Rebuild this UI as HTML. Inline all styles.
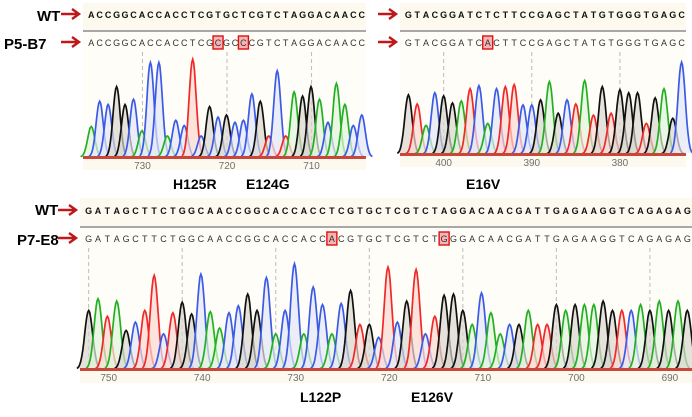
<!DOCTYPE html>
<html><head><meta charset="utf-8"><style>
html,body{margin:0;padding:0;background:#fff;}
svg{display:block;font-family:"Liberation Sans",sans-serif;}
</style></head><body>
<svg id="fig" width="692" height="417" viewBox="0 0 692 417">
<g id="labels">
  <text x="37" y="21" font-size="15" font-weight="bold">WT</text>
  <text x="4" y="49" font-size="15" font-weight="bold">P5-B7</text>
  <text x="35" y="215" font-size="15" font-weight="bold">WT</text>
  <text x="17" y="245" font-size="15" font-weight="bold">P7-E8</text>
  <text x="173" y="189" font-size="14" font-weight="bold">H125R</text>
  <text x="246" y="189" font-size="14" font-weight="bold">E124G</text>
  <text x="466" y="189" font-size="14" font-weight="bold">E16V</text>
  <text x="300" y="402" font-size="14" font-weight="bold">L122P</text>
  <text x="411" y="402" font-size="14" font-weight="bold">E126V</text>
</g>
</svg>
<script>
// ---- data ----
const p1Wt = "ACCGGCACCACCTCGTGCTCGTCTAGGACAACC";
const p1Mut = "ACCGGCACCACCTCGCGCCCGTCTAGGACAACC";
const p1Heights = [0.29,0.53,0.5,0.67,0.5,0.55,0.25,0.9,0.9,0.2,0.35,0.3,0.93,0.2,0.48,0.38,0.4,0.33,0.35,0.6,0.53,0.2,0.82,0.2,0.62,0.58,0.67,0.55,0.33,0.7,0.5,0.3,0.4];
const p1Marks = [15,18];
const p1Ticks = ["730","720","710"];
const p2Wt = "GTACGGATCTCTTCCGAGCTATGTGGGTGAGC";
const p2Mut = "GTACGGATCACTTCCGAGCTATGTGGGTGAGC";
const p2Heights = [0.58,0.49,0.28,0.6,0.57,0.5,0.52,0.64,0.67,0.3,0.64,0.66,0.68,0.48,0.48,0.53,0.71,0.4,0.53,0.49,0.72,0.38,0.66,0.4,0.63,0.6,0.6,0.3,0.55,0.64,0.35,0.9];
const p2Marks = [9];
const p2Ticks = ["400","390","380"];
const p3Wt = "GATAGCTTCTGGCAACCGGCACCACCTCGTGCTCGTCTAGGACAACGATTGAGAAGGTCAGAGAG";
const p3Mut = "GATAGCTTCTGGCAACCGGCACCACCACGTGCTCGTCTGGGACAACGATTGAGAAGGTCAGAGAG";
const p3Heights = [0.5,0.6,0.45,0.58,0.33,0.4,0.5,0.8,0.3,0.48,0.57,0.47,0.81,0.49,0.35,0.48,0.54,0.64,0.5,0.78,0.3,0.5,0.9,0.3,0.7,0.55,0.3,0.56,0.67,0.38,0.38,0.27,0.87,0.4,0.58,0.85,0.3,0.45,0.63,0.64,0.5,0.38,0.65,0.48,0.3,0.38,0.38,0.5,0.38,0.38,0.55,0.5,0.55,0.55,0.55,0.58,0.5,0.5,0.5,0.55,0.5,0.58,0.5,0.58,0.5,0.5];
const p3Marks = [26,38];
const p3Ticks = ["750","740","730","720","710","700","690"];

const COL = {A:"#22b022",C:"#3b5ae6",G:"#111111",T:"#f02828"};
const FILL = {A:"#e2f3dd",C:"#e4e7f6",G:"#d9d6cf",T:"#fbd9d2"};
const NS = "http://www.w3.org/2000/svg";
const svg = document.getElementById("fig");
function mk(tag, attrs, parent){const e=document.createElementNS(NS,tag);for(const k in attrs)e.setAttribute(k,attrs[k]);(parent||svg).appendChild(e);return e;}

function drawPanel(p){
  const g = mk("g",{});
  
  
  mk("rect",{x:p.x0,y:p.yTop,width:p.x1-p.x0,height:p.yAxis-p.yTop,fill:"#fdf9ee"},g);
  mk("rect",{x:p.x0,y:p.sep+2,width:p.x1-p.x0,height:p.base-p.sep-2,fill:"#fffdf8"},g);
  mk("rect",{x:p.x0,y:p.sep,width:p.x1-p.x0,height:2,fill:"#a8a8a8"},g);
  const n = p.mut.length;
  const dx = (p.x1-p.x0-4)/n;
  const xb = i => p.x0+4+dx*(i+0.5);
  const yv = h => p.base - h*(p.base-p.traceTop);
  [p.wtY, p.mutY].forEach(yy=>{
    const a = mk("path",{d:`M${p.x0-22} ${yy-4}H${p.x0-6}M${p.x0-11} ${yy-9}L${p.x0-4} ${yy-4}L${p.x0-11} ${yy+1}`,stroke:"#c01818","stroke-width":2.4,fill:"none"},g);
    
    
  });
  p.ticks.forEach((t,k)=>{
    const i = p.tickStart + k*10;
    const x = xb(i) + p.tickShift;
    mk("line",{x1:x,x2:x,y1:p.mutY+6,y2:p.base,stroke:"#bbbbbb","stroke-dasharray":"4,3","stroke-width":1},g);
    const tx = mk("text",{x:x+p.labelShift,y:p.base+12,"font-size":10,fill:"#707070","text-anchor":"middle"},g);
    tx.textContent = t;
    
    
  });
  p.marks.forEach(i=>{
    const r = mk("rect",{x:xb(i)-5,y:p.mutY-10,width:10,height:13,fill:"#f6b4b4",stroke:"#e01010","stroke-width":1.4},g);
    
    
  });
  for(let i=0;i<n;i++){
    if(i<p.wt.length){
      const t = mk("text",{x:xb(i),y:p.wtY,"font-size":9,"font-weight":"bold","text-anchor":"middle",fill:"#111"},g);
      t.textContent = p.wt[i];
      
      
    }
    const t2 = mk("text",{x:xb(i),y:p.mutY,"font-size":9,"text-anchor":"middle",fill:"#333"},g);
    t2.textContent = p.mut[i];
    
    
  }
  const sig = dx*0.42;
  for(let i=0;i<n;i++){
    const b = p.mut[i], c = xb(i), top = yv(p.heights[i]);
    let d = "";
    for(let s=-3;s<=3.001;s+=0.25){
      const x = c + s*sig;
      const y = p.base - (p.base-top)*Math.exp(-s*s/2);
      d += (d?"L":"M")+x.toFixed(1)+" "+y.toFixed(1);
    }
    const f = mk("path",{d:d+"Z",fill:FILL[b],opacity:0.7},g);
    
    
    const l = mk("path",{d:d,fill:"none",stroke:COL[b],"stroke-width":1.7},g);
    
    
  }
  mk("rect",{x:p.x0,y:p.base-1,width:p.x1-p.x0,height:3,fill:"#c8463a"},g);
}

drawPanel({name:"panel-p5-b7-left",x0:83,x1:366,yTop:3,sep:30,wtY:18,mutY:46,traceTop:52,base:157,yAxis:170,
  wt:p1Wt,mut:p1Mut,heights:p1Heights,marks:p1Marks,ticks:p1Ticks,tickStart:6,tickShift:0.5,labelShift:0});
drawPanel({name:"panel-p5-b7-right",x0:400,x1:686,yTop:3,sep:30,wtY:18,mutY:46,traceTop:52,base:154,yAxis:167,
  wt:p2Wt,mut:p2Mut,heights:p2Heights,marks:p2Marks,ticks:p2Ticks,tickStart:4,tickShift:0,labelShift:0});
drawPanel({name:"panel-p7-e8",x0:80,x1:692,yTop:198,sep:226,wtY:214,mutY:242,traceTop:252,base:369,yAxis:383,
  wt:p3Wt,mut:p3Mut,heights:p3Heights,marks:p3Marks,ticks:p3Ticks,tickStart:0,tickShift:0,labelShift:20});
svg.appendChild(document.getElementById("labels"));
</script>
</body></html>
